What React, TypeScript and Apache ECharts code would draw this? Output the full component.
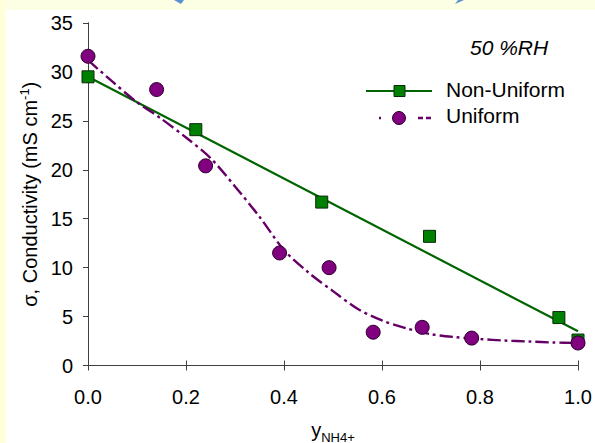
import React, { useEffect, useRef } from "react";
import * as echarts from "echarts";

// Measured data points
const nonUniformX = [0.0, 0.22, 0.477, 0.697, 0.961, 1.0];
const nonUniformY = [29.5, 24.1, 16.7, 13.2, 4.9, 2.6];
const uniformX = [0.0, 0.14, 0.24, 0.391, 0.492, 0.582, 0.682, 0.783, 1.0];
const uniformY = [31.6, 28.2, 20.4, 11.5, 10.0, 3.4, 3.9, 2.8, 2.3];

// Fitted lines
const nonUniformFitX = [0.0, 1.0];
const nonUniformFitY = [29.5, 3.5];
const uniformFitX = [0, 0.05, 0.1, 0.15, 0.2, 0.25, 0.3, 0.35, 0.4, 0.45, 0.5, 0.55, 0.6, 0.65, 0.7, 0.75, 0.8, 0.85, 0.9, 0.95, 1.0];
const uniformFitY = [31.2, 29.0, 26.9, 25.2, 23.3, 21.2, 18.3, 15.2, 11.8, 9.5, 7.6, 5.8, 4.6, 3.8, 3.2, 2.9, 2.7, 2.55, 2.45, 2.35, 2.3];

const xTicks = [0, 0.2, 0.4, 0.6, 0.8, 1.0];
const yTicks = [0, 5, 10, 15, 20, 25, 30, 35];

const zip = (xs: number[], ys: number[]) => xs.map((x, i) => [x, ys[i]]);

const FONT = "Liberation Sans, Arial, sans-serif";
const GREEN_LINE = "#006400";
const GREEN_FILL = "#008000";
const PURPLE_FILL = "#800080";
const PURPLE_LINE = "#660066";
const DASH = [13, 4, 3, 4];

export default function App() {
  const ref = useRef<HTMLDivElement>(null);
  useEffect(() => {
    document.body.style.margin = "0";
    const chart = echarts.init(ref.current!, null, { renderer: "svg" });
    const axisLine = { show: true, lineStyle: { color: "#404040", width: 1 } };
    const option: any = {
      animation: false,
      backgroundColor: "transparent",
      grid: { left: 88, right: 17, top: 23, bottom: 77.5, containLabel: false, outerBoundsMode: "none" },
      xAxis: [
        {
          type: "value",
          min: 0,
          max: 1,
          interval: 0.2,
          position: "bottom",
          axisLine,
          axisTick: { show: true, inside: false, length: 5, lineStyle: { color: "#404040" } },
          axisLabel: {
            color: "#000",
            fontSize: 20,
            fontFamily: FONT,
            margin: 21,
            formatter: (v: number) => (xTicks.some((t) => Math.abs(t - v) < 1e-9) ? v.toFixed(1) : ""),
          },
          splitLine: { show: false },
          name: "{y|y}{s|NH4+}",
          nameLocation: "middle",
          nameGap: 52,
          nameTextStyle: {
            rich: {
              y: { fontSize: 20, fontFamily: FONT, color: "#000", verticalAlign: "bottom", lineHeight: 22 },
              s: { fontSize: 13, fontFamily: FONT, color: "#000", verticalAlign: "bottom", lineHeight: 15, padding: [0, 0, -4, 0] },
            },
          },
        },
        {
          type: "value",
          min: 0,
          max: 1,
          interval: 0.2,
          position: "top",
          axisLine,
          axisTick: { show: true, inside: false, length: 5, lineStyle: { color: "#404040" } },
          axisLabel: { show: false },
          splitLine: { show: false },
        },
      ],
      yAxis: [
        {
          type: "value",
          min: 0,
          max: 35,
          interval: 5,
          position: "left",
          axisLine,
          axisTick: { show: true, inside: false, length: 5, lineStyle: { color: "#404040" } },
          axisLabel: {
            color: "#000",
            fontSize: 20,
            fontFamily: FONT,
            margin: 15,
            formatter: (v: number) => (yTicks.includes(v) ? String(v) : ""),
          },
          splitLine: { show: false },
          name: "{a|σ, Conductivity (mS cm}{b|-1}{a|)}",
          nameLocation: "middle",
          nameGap: 47,
          nameRotate: 90,
          nameTextStyle: {
            rich: {
              a: { fontSize: 20, fontFamily: FONT, color: "#000", verticalAlign: "bottom", lineHeight: 22 },
              b: { fontSize: 13, fontFamily: FONT, color: "#000", verticalAlign: "top", lineHeight: 22, padding: [0, 0, 9, 0] },
            },
          },
        },
        {
          type: "value",
          min: 0,
          max: 35,
          interval: 5,
          position: "right",
          axisLine,
          axisTick: { show: true, inside: true, length: 5, lineStyle: { color: "#404040" } },
          axisLabel: { show: false },
          splitLine: { show: false },
        },
      ],
      series: [
        {
          name: "Non-Uniform fit",
          type: "line",
          data: zip(nonUniformFitX, nonUniformFitY),
          showSymbol: false,
          symbol: "none",
          lineStyle: { color: GREEN_LINE, width: 2.2 },
          z: 2,
        },
        {
          name: "Uniform fit",
          type: "line",
          data: zip(uniformFitX, uniformFitY),
          smooth: 0.3,
          symbol: "none",
          lineStyle: { color: PURPLE_LINE, width: 2.4, type: DASH },
          z: 2,
        },
        {
          name: "Non-Uniform",
          type: "scatter",
          data: zip(nonUniformX, nonUniformY),
          symbol: "rect",
          symbolSize: 12,
          itemStyle: { color: GREEN_FILL, borderColor: "#0a2a0a", borderWidth: 1, opacity: 1 },
          z: 3,
        },
        {
          name: "Uniform",
          type: "scatter",
          data: zip(uniformX, uniformY),
          symbol: "circle",
          symbolSize: 14,
          itemStyle: { color: PURPLE_FILL, borderColor: "#2a002a", borderWidth: 1, opacity: 1 },
          z: 4,
        },
      ],
      graphic: [
        { type: "rect", shape: { x: 0, y: 0, width: 595, height: 10 }, style: { fill: "#FCFFE4" }, z: -10, silent: true },
        { type: "rect", shape: { x: 0, y: 0, width: 6, height: 443 }, style: { fill: "#FFFFDC" }, z: -10, silent: true },
        { type: "polygon", shape: { points: [[174, 0], [184, 0], [181, 4]] }, style: { fill: "#5b8fd0" }, silent: true },
        { type: "polygon", shape: { points: [[455, 4], [464, 0], [458, 0]] }, style: { fill: "#5b8fd0" }, silent: true },
        {
          type: "text",
          left: 470,
          top: 37,
          style: { text: "50 %RH", fontSize: 21, fontStyle: "italic", fontFamily: FONT, fill: "#000" },
        },
        // legend
        { type: "line", shape: { x1: 366, y1: 91, x2: 432, y2: 91 }, style: { stroke: GREEN_LINE, lineWidth: 2.2 } },
        { type: "rect", shape: { x: 394, y: 85.5, width: 11, height: 11 }, style: { fill: GREEN_FILL, stroke: "#0a2a0a", lineWidth: 1 } },
        { type: "text", left: 446, top: 79, style: { text: "Non-Uniform", fontSize: 21, fontFamily: FONT, fill: "#000" } },
        { type: "line", shape: { x1: 379, y1: 118, x2: 381, y2: 118 }, style: { stroke: PURPLE_LINE, lineWidth: 2.4 } },
        { type: "circle", shape: { cx: 399, cy: 118, r: 6.5 }, style: { fill: PURPLE_FILL, stroke: "#2a002a", lineWidth: 1 } },
        { type: "line", shape: { x1: 418, y1: 118, x2: 432, y2: 118 }, style: { stroke: PURPLE_LINE, lineWidth: 2.4, lineDash: [5, 3] } },
        { type: "text", left: 446, top: 105, style: { text: "Uniform", fontSize: 21, fontFamily: FONT, fill: "#000" } },
      ],
    };
    chart.setOption(option);
    return () => chart.dispose();
  }, []);
  return (
    <div style={{ position: "absolute", left: 0, top: 0, width: 595, height: 443, background: "#ffffff" }}>
      <div ref={ref} style={{ width: 595, height: 443 }} />
    </div>
  );
}
